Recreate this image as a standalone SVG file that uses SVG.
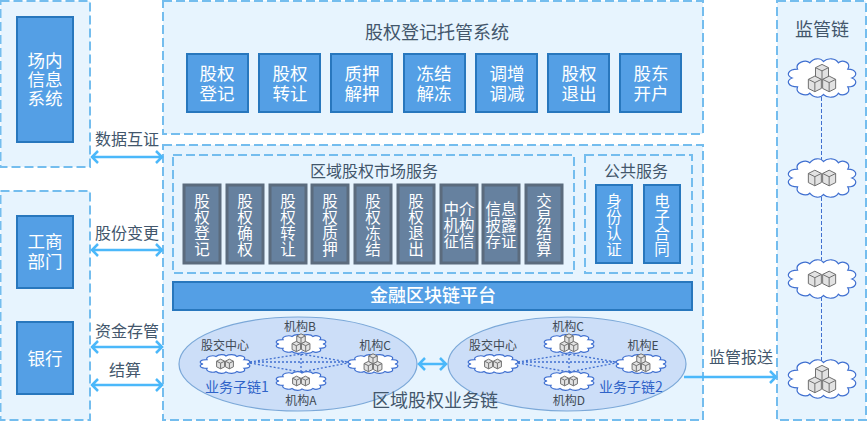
<svg xmlns="http://www.w3.org/2000/svg" width="868" height="422" viewBox="0 0 868 422">
<style>
text{font-family:"Noto Sans CJK SC","Noto Sans",sans-serif;text-anchor:middle}
.panel{fill:#e7f4fe;stroke:#74bdee;stroke-width:2;stroke-dasharray:9 4}
.blue{fill:#549fe5;stroke:#2877bd;stroke-width:2}
.gray{fill:#66819f;stroke:#5b6b7d;stroke-width:3}
.w18{fill:#fff;font-size:17.5px}
.w16{fill:#fff;font-size:15.5px}
.d18{fill:#42566b;font-size:18px}
.d16{fill:#42566b;font-size:16px}
.d12{fill:#3f4a55;font-size:12px}
.chain{fill:#2f63c8;font-size:14px}
.arrow{fill:none;stroke:#4bb8fa;stroke-width:2.5}
.dot{fill:none;stroke:#3f6fd0;stroke-width:1.3;stroke-dasharray:2 2}
.vdash{fill:none;stroke:#3f6fd0;stroke-width:1;stroke-dasharray:4 2}
.cl{fill:#fff;stroke:#3f6fd0;stroke-width:1.2;vector-effect:non-scaling-stroke}
.cu{fill:#e2e2e2;stroke:#707070;stroke-width:1;vector-effect:non-scaling-stroke}
.cu2{fill:none;stroke:#707070;stroke-width:1;vector-effect:non-scaling-stroke}
.ell{fill:#ccdef8;stroke:#7ba8d8;stroke-width:1.2}
</style>
<defs>
<path id="cloud" class="cl" d="M-18 -7C-20 -12 -12 -15 -9 -12C-6 -16 -1 -16 1 -13C4 -16 10 -16 12 -12C15 -15 22 -12 19 -7C25 -7 27 -2 22 0C27 2 25 7 19 7C22 12 15 15 12 12C10 16 4 16 1 13C-1 16 -6 16 -9 12C-12 15 -20 12 -18 7C-25 7 -27 2 -22 0C-27 -2 -25 -7 -18 -7Z"/>
<g id="cube"><path class="cu" d="M-5 -3.5L0 -6L5 -3.5V3.5L0 6L-5 3.5Z"/><path class="cu2" d="M-5 -3.5L0 -1L5 -3.5M0 -1V6"/></g>
<g id="two"><use href="#cube" x="-5.5"/><use href="#cube" x="5.5"/></g>
<g id="three"><use href="#cube" y="-6"/><use href="#cube" x="-5.5" y="3"/><use href="#cube" x="5.5" y="3"/></g>
</defs>

<g id="panel-left-top"><rect class="panel" x="0.5" y="1" width="89.5" height="166"/>
<rect class="blue" x="17" y="17" width="56" height="125"/>
<text class="w18"><tspan x="45" y="66.500">场内</tspan><tspan x="45" y="85.500">信息</tspan><tspan x="45" y="104.500">系统</tspan></text></g>

<g id="panel-left-bottom"><rect class="panel" x="0.5" y="191" width="89.500" height="229"/></g>
<g id="node-gongshang"><rect class="blue" x="17" y="216" width="56" height="72"/>
<text class="w18"><tspan x="45" y="248">工商</tspan><tspan x="45" y="268">部门</tspan></text></g>
<g id="node-bank"><rect class="blue" x="17" y="322" width="56" height="72"/><text class="w18" x="45" y="365">银行</text></g>

<g id="panel-registry"><rect class="panel" x="163" y="1" width="540" height="133"/>
<text class="d18" x="437" y="39">股权登记托管系统</text></g>
<g id="reg1"><rect class="blue" x="187" y="54" width="61" height="58"/><text class="w18"><tspan x="217" y="79.500">股权</tspan><tspan x="217" y="99.500">登记</tspan></text></g>
<g id="reg2"><rect class="blue" x="259" y="54" width="61" height="58"/><text class="w18"><tspan x="290" y="79.500">股权</tspan><tspan x="290" y="99.500">转让</tspan></text></g>
<g id="reg3"><rect class="blue" x="331" y="54" width="61" height="58"/><text class="w18"><tspan x="362" y="79.500">质押</tspan><tspan x="362" y="99.500">解押</tspan></text></g>
<g id="reg4"><rect class="blue" x="404" y="54" width="61" height="58"/><text class="w18"><tspan x="434" y="79.500">冻结</tspan><tspan x="434" y="99.500">解冻</tspan></text></g>
<g id="reg5"><rect class="blue" x="476" y="54" width="61" height="58"/><text class="w18"><tspan x="507" y="79.500">调增</tspan><tspan x="507" y="99.500">调减</tspan></text></g>
<g id="reg6"><rect class="blue" x="548" y="54" width="61" height="58"/><text class="w18"><tspan x="579" y="79.500">股权</tspan><tspan x="579" y="99.500">退出</tspan></text></g>
<g id="reg7"><rect class="blue" x="620" y="54" width="61" height="58"/><text class="w18"><tspan x="651" y="79.500">股东</tspan><tspan x="651" y="99.500">开户</tspan></text></g>

<g id="panel-business"><rect class="panel" x="163" y="145" width="540" height="275"/></g>
<g id="panel-market"><rect class="panel" x="173" y="155" width="401" height="118"/>
<text class="d16" x="374" y="177">区域股权市场服务</text></g>
<g id="panel-public"><rect class="panel" x="585" y="155" width="107" height="118"/>
<text class="d16" x="636" y="177">公共服务</text></g>

<g id="m1"><rect class="gray" x="184" y="185" width="36" height="78"/><text class="w16"><tspan x="202" y="207">股</tspan><tspan x="202" y="223">权</tspan><tspan x="202" y="239">登</tspan><tspan x="202" y="255">记</tspan></text></g>
<g id="m2"><rect class="gray" x="227" y="185" width="36" height="78"/><text class="w16"><tspan x="245" y="207">股</tspan><tspan x="245" y="223">权</tspan><tspan x="245" y="239">确</tspan><tspan x="245" y="255">权</tspan></text></g>
<g id="m3"><rect class="gray" x="270" y="185" width="36" height="78"/><text class="w16"><tspan x="288" y="207">股</tspan><tspan x="288" y="223">权</tspan><tspan x="288" y="239">转</tspan><tspan x="288" y="255">让</tspan></text></g>
<g id="m4"><rect class="gray" x="312" y="185" width="36" height="78"/><text class="w16"><tspan x="330" y="207">股</tspan><tspan x="330" y="223">权</tspan><tspan x="330" y="239">质</tspan><tspan x="330" y="255">押</tspan></text></g>
<g id="m5"><rect class="gray" x="355" y="185" width="36" height="78"/><text class="w16"><tspan x="373" y="207">股</tspan><tspan x="373" y="223">权</tspan><tspan x="373" y="239">冻</tspan><tspan x="373" y="255">结</tspan></text></g>
<g id="m6"><rect class="gray" x="398" y="185" width="36" height="78"/><text class="w16"><tspan x="416" y="207">股</tspan><tspan x="416" y="223">权</tspan><tspan x="416" y="239">退</tspan><tspan x="416" y="255">出</tspan></text></g>
<g id="m7"><rect class="gray" x="441" y="185" width="36" height="78"/><text class="w16"><tspan x="459" y="215">中介</tspan><tspan x="459" y="231">机构</tspan><tspan x="459" y="247">征信</tspan></text></g>
<g id="m8"><rect class="gray" x="483" y="185" width="36" height="78"/><text class="w16"><tspan x="501" y="215">信息</tspan><tspan x="501" y="231">披露</tspan><tspan x="501" y="247">存证</tspan></text></g>
<g id="m9"><rect class="gray" x="526" y="185" width="36" height="78"/><text class="w16"><tspan x="544" y="207">交</tspan><tspan x="544" y="223">易</tspan><tspan x="544" y="239">结</tspan><tspan x="544" y="255">算</tspan></text></g>

<g id="p1"><rect class="blue" x="596" y="185" width="36" height="78"/><text class="w16"><tspan x="614" y="207">身</tspan><tspan x="614" y="223">份</tspan><tspan x="614" y="239">认</tspan><tspan x="614" y="255">证</tspan></text></g>
<g id="p2"><rect class="blue" x="644" y="185" width="36" height="78"/><text class="w16"><tspan x="662" y="207">电</tspan><tspan x="662" y="223">子</tspan><tspan x="662" y="239">合</tspan><tspan x="662" y="255">同</tspan></text></g>

<g id="platform"><rect class="blue" x="173" y="282" width="519" height="28"/><text class="w18" x="433" y="302" style="font-size:18px;font-weight:500">金融区块链平台</text></g>

<g id="subchain1"><ellipse class="ell" cx="298" cy="364" rx="119" ry="47"/>
<text class="d12" x="225" y="350">股交中心</text><text class="d12" x="300" y="331">机构B</text><text class="d12" x="375" y="350">机构C</text><text class="d12" x="301" y="405">机构A</text>
<text class="chain" x="237" y="392">业务子链1</text></g>
<g id="subchain2"><ellipse class="ell" cx="567" cy="364" rx="119" ry="47"/>
<text class="d12" x="493" y="350">股交中心</text><text class="d12" x="568" y="331">机构C</text><text class="d12" x="643" y="350">机构E</text><text class="d12" x="569" y="405">机构D</text>
<text class="chain" x="631" y="392">业务子链2</text></g>
<text id="business-title" class="d18" x="435" y="407">区域股权业务链</text>

<g id="panel-supervision"><rect class="panel" x="777" y="1" width="89" height="419"/>
<text class="d18" x="822" y="36">监管链</text></g>

<g id="connectors">
<path class="vdash" d="M821.500 97V160M821.500 197V260M821.500 297V361"/>
<path class="dot" d="M250 362L301 354L348 362M250 362H348M250 363L301 372L348 363M301 354V372"/>
<path class="dot" d="M518 362L569 354L616 362M518 362H616M518 363L569 372L616 363M569 354V372"/>
<path class="arrow" d="M92 157H162M98 151L92 157L98 163M156 151L162 157L156 163"/>
<path class="arrow" d="M92 250H162M98 244L92 250L98 256M156 244L162 250L156 256"/>
<path class="arrow" d="M92 347H162M98 341L92 347L98 353M156 341L162 347L156 353"/>
<path class="arrow" d="M92 385H162M98 379L92 385L98 391M156 379L162 385L156 391"/>
<path class="arrow" d="M419 364H446M425 358L419 364L425 370M440 358L446 364L440 370"/>
<path class="arrow" d="M684 377H776M770 371L776 377L770 383"/>
</g>

<g id="labels">
<text class="d16" x="127" y="145">数据互证</text>
<text class="d16" x="127" y="239">股份变更</text>
<text class="d16" x="127" y="337">资金存管</text>
<text class="d16" x="125" y="376">结算</text>
<text class="d16" x="741" y="363">监管报送</text>
</g>

<g id="clouds">
<g id="cl1" transform="translate(225 364)"><use href="#cloud" transform="scale(1 .62)"/><use href="#two" transform="scale(.8)"/></g>
<g id="cl2" transform="translate(301 344)"><use href="#cloud" transform="scale(1 .62)"/><use href="#three" transform="scale(.85)"/></g>
<g id="cl3" transform="translate(373 364)"><use href="#cloud" transform="scale(1 .62)"/><use href="#three" transform="scale(.85)"/></g>
<g id="cl4" transform="translate(301 381)"><use href="#cloud" transform="scale(1 .62)"/><use href="#two" transform="scale(.8)"/></g>
<g id="cl5" transform="translate(493 364)"><use href="#cloud" transform="scale(1 .62)"/><use href="#two" transform="scale(.8)"/></g>
<g id="cl6" transform="translate(569 344)"><use href="#cloud" transform="scale(1 .62)"/><use href="#three" transform="scale(.85)"/></g>
<g id="cl7" transform="translate(641 364)"><use href="#cloud" transform="scale(1 .62)"/><use href="#three" transform="scale(.85)"/></g>
<g id="cl8" transform="translate(569 381)"><use href="#cloud" transform="scale(1 .62)"/><use href="#two" transform="scale(.8)"/></g>
<g id="cl9" transform="translate(822 78)"><use href="#cloud" transform="scale(1.36 1.27)"/><use href="#three" transform="translate(0 2) scale(1.3)"/></g>
<g id="cl10" transform="translate(822 178)"><use href="#cloud" transform="scale(1.36 1.27)"/><use href="#two" transform="scale(1.3)"/></g>
<g id="cl11" transform="translate(822 279)"><use href="#cloud" transform="scale(1.36 1.27)"/><use href="#two" transform="scale(1.3)"/></g>
<g id="cl12" transform="translate(822 379)"><use href="#cloud" transform="scale(1.36 1.27)"/><use href="#three" transform="translate(0 2) scale(1.3)"/></g>
</g>
</svg>
